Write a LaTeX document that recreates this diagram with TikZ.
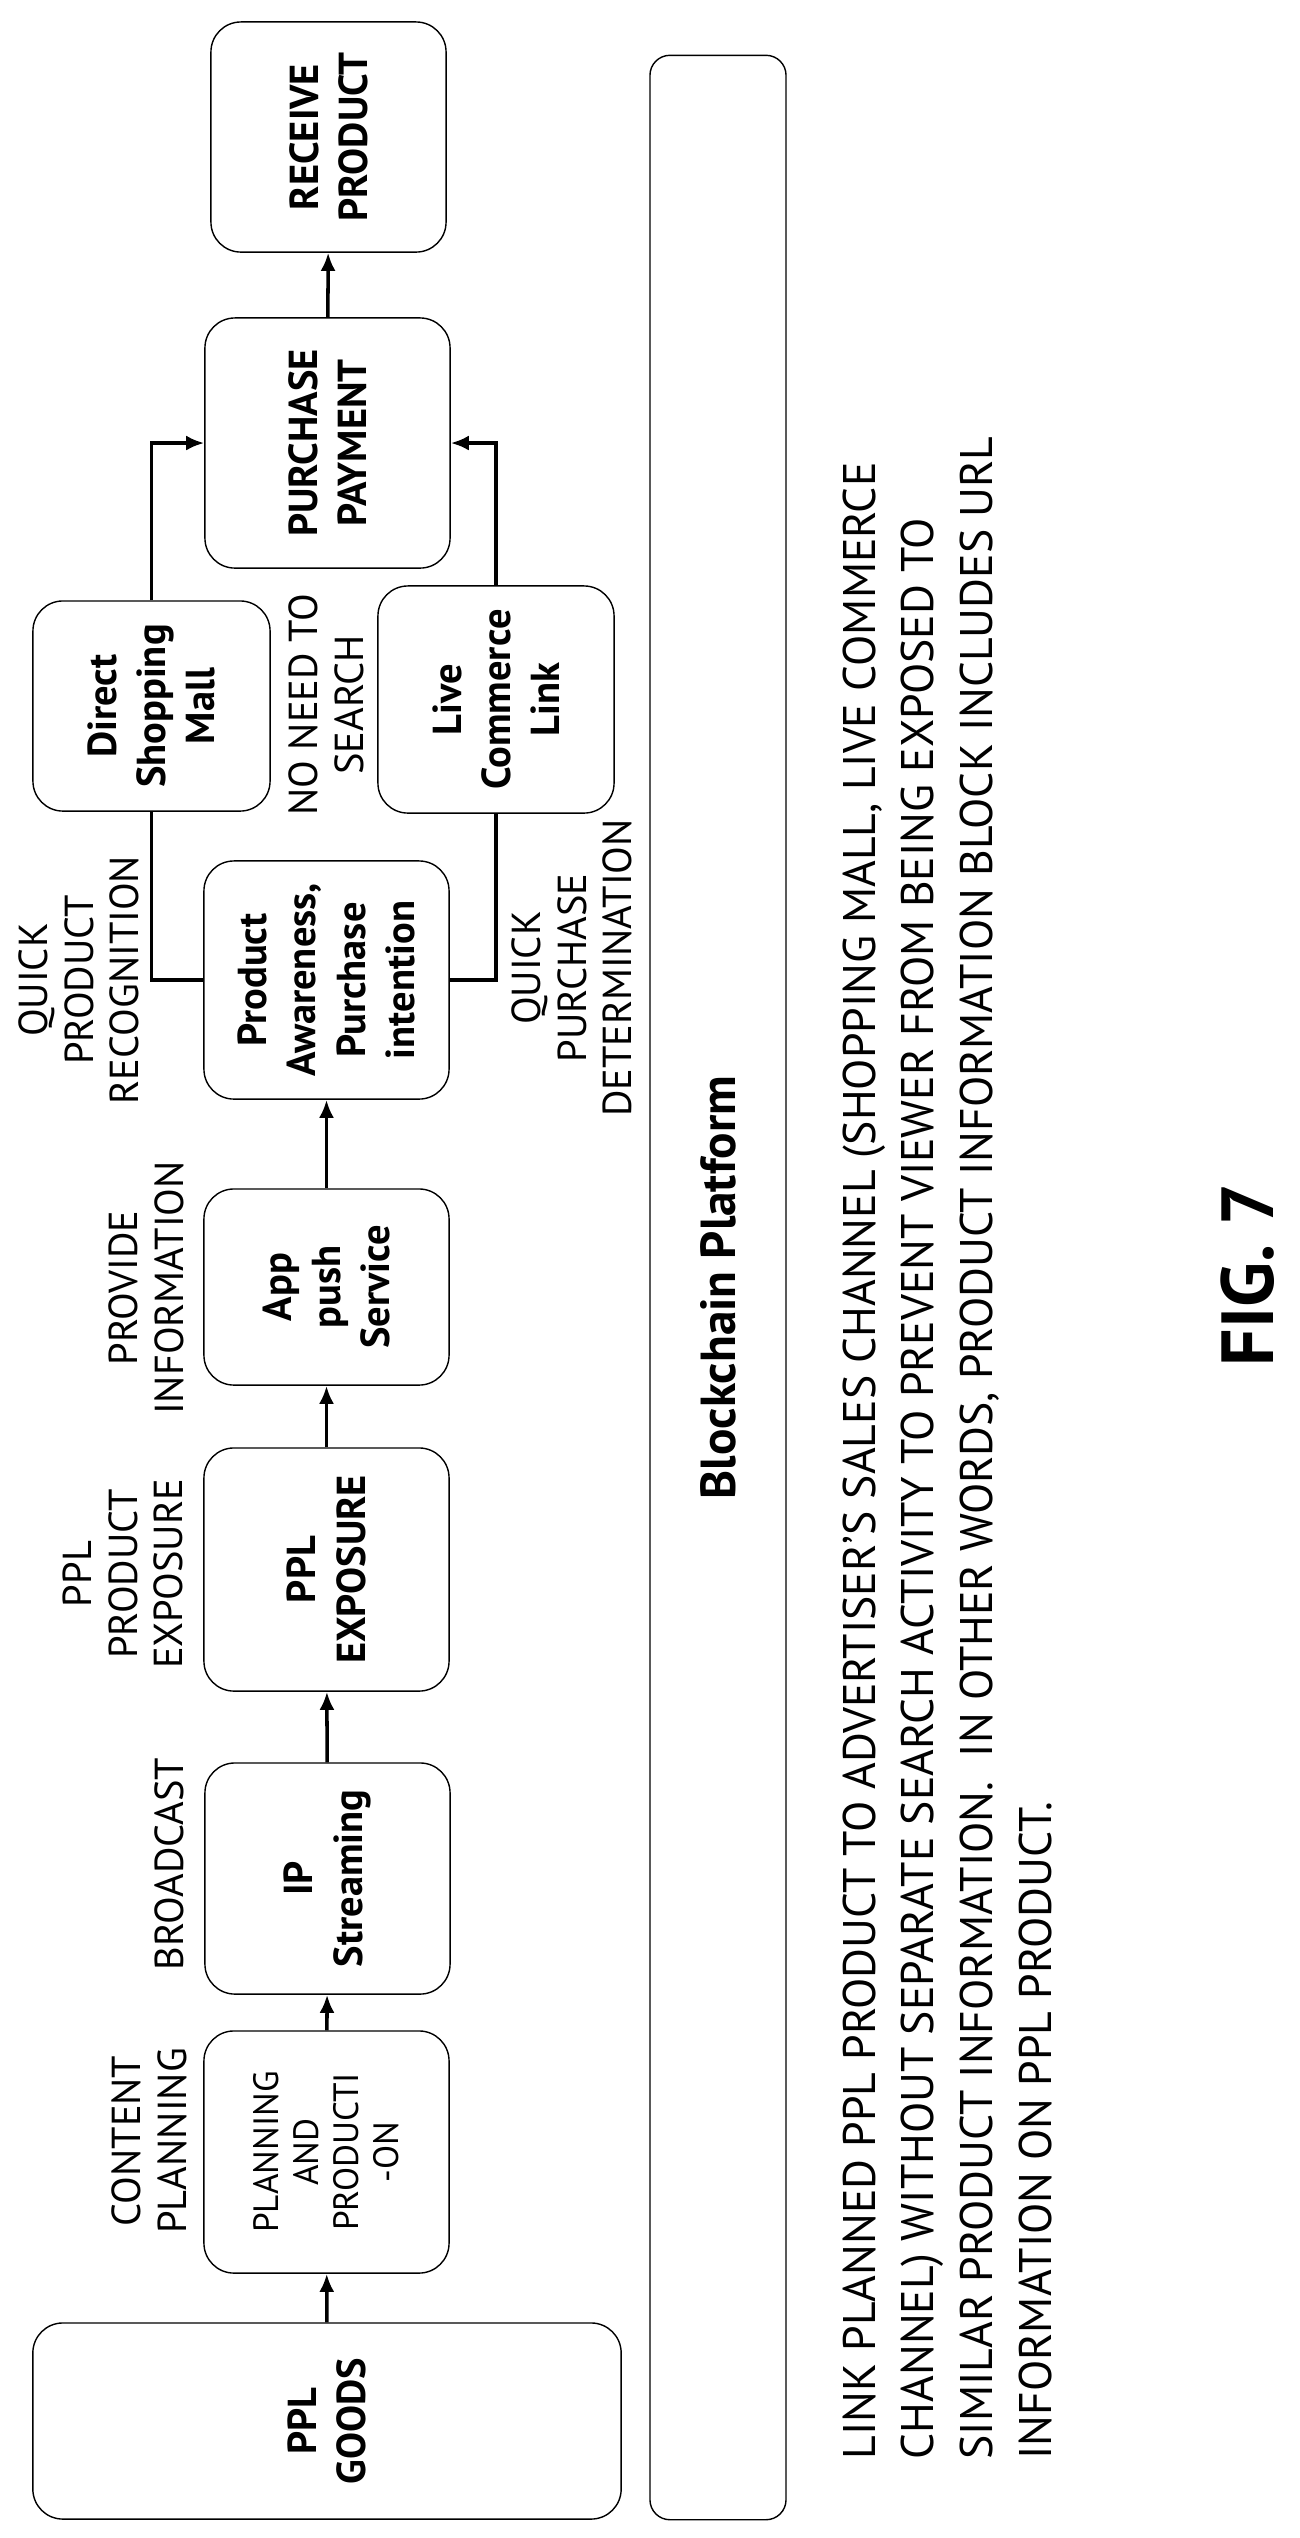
\documentclass[tikz,border=0pt]{standalone}
\usepackage{fontspec}
\setmainfont{PT Sans}
\usetikzlibrary{arrows.meta}
\begin{document}
\begin{tikzpicture}
		[x=0.01cm,y=-0.01cm,
		box/.style={draw,rounded corners=0.3cm,rotate=90,align=center,inner sep=0pt,font=\fontsize{11.5}{14}\selectfont\bfseries},
		note/.style={rotate=90,align=center,inner sep=0pt,font=\fontsize{11.5}{13}\selectfont},
		link/.style={-{Latex[length=0.18cm,width=0.15cm]},line width=1pt},
		wire/.style={line width=1pt}]
		\useasboundingbox (0,0) rectangle (1300,2538);
		\node[box,minimum width=2.30cm,minimum height=2.35cm] (recv) at (328.5,137) {RECEIVE\\PRODUCT};
		\node[box,minimum width=2.50cm,minimum height=2.45cm] (pay) at (327.5,443) {PURCHASE\\PAYMENT};
		\node[box,minimum width=2.10cm,minimum height=2.37cm] (mall) at (151.5,706) {Direct\\Shopping\\Mall};
		\node[box,minimum width=2.27cm,minimum height=2.36cm] (live) at (496,699.5) {Live\\Commerce\\Link};
		\node[box,minimum width=2.38cm,minimum height=2.45cm] (aware) at (326.5,980) {Product\\Awareness,\\Purchase\\intention};
		\node[box,minimum width=1.96cm,minimum height=2.45cm] (app) at (326.5,1287) {App\\push\\Service};
		\node[box,minimum width=2.43cm,minimum height=2.45cm] (exp) at (326.5,1569.5) {PPL\\EXPOSURE};
		\node[box,minimum width=2.31cm,minimum height=2.45cm] (ip) at (327.5,1878.5) {IP\\Streaming};
		\node[box,minimum width=2.42cm,minimum height=2.45cm,font=\fontsize{10}{11.4}\selectfont] (plan) at (326.5,2152) {PLANNING\\AND\\PRODUCTI\\-ON};
		\node[box,minimum width=1.96cm,minimum height=5.88cm] (goods) at (327,2421) {PPL\\GOODS};
		\node[box,rounded corners=0.2cm,minimum width=24.63cm,minimum height=1.36cm,font=\fontsize{14}{16}\selectfont\bfseries] (chain) at (718,1287.5) {Blockchain Platform};
		% labels
		\node[note] (lplan) at (149,2141) {CONTENT\\PLANNING};
		\node[note] (lcast) at (169,1864) {BROADCAST};
		\node[note] (lexp) at (123,1574) {PPL\\PRODUCT\\EXPOSURE};
		\node[note] (linfo) at (146,1288) {PROVIDE\\INFORMATION};
		\node[note] (lrec) at (79,980) {QUICK\\PRODUCT\\RECOGNITION};
		\node[note] (ldet) at (572,968) {QUICK\\PURCHASE\\DETERMINATION};
		\node[note] (lsearch) at (326,705) {NO NEED TO\\SEARCH};
		\node[rotate=90,anchor=north west,align=left,inner sep=0pt,font=\fontsize{13}{16.7}\selectfont] (text) at (842,2460)
			{LINK PLANNED PPL PRODUCT TO ADVERTISER'S SALES CHANNEL (SHOPPING MALL, LIVE COMMERCE\\
			CHANNEL) WITHOUT SEPARATE SEARCH ACTIVITY TO PREVENT VIEWER FROM BEING EXPOSED TO\\
			SIMILAR PRODUCT INFORMATION.\ \ IN OTHER WORDS, PRODUCT INFORMATION BLOCK INCLUDES URL\\
			INFORMATION ON PPL PRODUCT.};
		\node[rotate=90,inner sep=0pt,font=\fontsize{21}{24}\selectfont\bfseries] (fig) at (1248,1275) {FIG. 7};
		% flow
		\draw[link] (goods) -- (plan);
		\draw[link] (plan) -- (ip);
		\draw[link] (ip) -- (exp);
		\draw[link] (exp) -- (app);
		\draw[link] (app) -- (aware);
		\draw[wire] (aware.north) -| (mall.west);
		\draw[wire] (aware.south) -| (live.west);
		\draw[link] (mall.east) |- (pay.north);
		\draw[link] (live.east) |- (pay.south);
		\draw[link] (pay) -- (recv);
	\end{tikzpicture}
\end{document}
